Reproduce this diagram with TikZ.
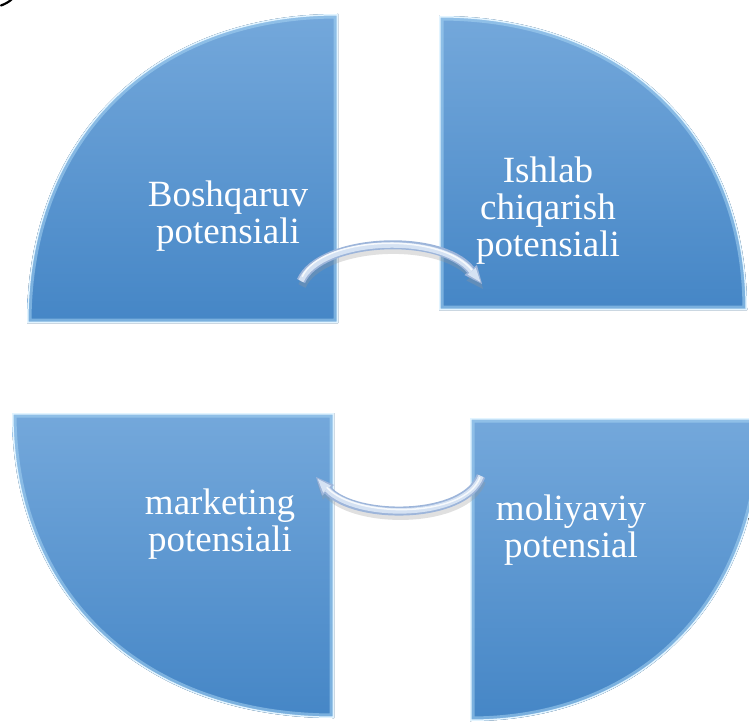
\documentclass[tikz,border=0pt]{standalone}
\usepackage{fontspec}
\setmainfont{Liberation Serif}
\usetikzlibrary{arrows.meta,shadings}
\definecolor{pieTop}{HTML}{74A8DB}
\definecolor{pieBot}{HTML}{4586C6}
\definecolor{bevelA}{HTML}{A6D3F2}
\definecolor{bevelB}{HTML}{E2F4FF}
\definecolor{arrFill}{HTML}{D5E2F3}
\definecolor{arrEdge}{HTML}{9DB5DA}
\newcommand\pieshape[1]{%
  \fill[pie] #1;
  \begin{scope}
    \clip #1;
    \draw[bevelA, line width=9pt, opacity=0.55] #1;
    \draw[bevelB, line width=3pt] #1;
  \end{scope}}
\begin{document}
\begin{tikzpicture}[x=1pt,y=-1pt,
  pie/.style={top color=pieTop,bottom color=pieBot,draw=none},
  lab/.style={text=white,font=\fontsize{37}{37}\selectfont,align=center,anchor=base,inner sep=0pt},
  ashadow/.style={draw=black!40,opacity=0.3,line width=8pt,-{Triangle[length=17pt,width=15pt,line width=0pt]}},
  aouter/.style={draw=arrEdge,line width=9pt,-{Triangle[length=18pt,width=16pt,line width=0pt]}},
  ainner/.style={draw=arrFill,line width=5.5pt,shorten >=2.5pt,-{Triangle[length=14pt,width=10.5pt,line width=0pt]}},
  ahigh/.style={draw=white,line width=1.5pt,opacity=0.8,shorten >=16pt,shorten <=3pt}]
\useasboundingbox (0,0) rectangle (749,722);
\clip (0,0) rectangle (749,722);
% fragment of a glyph cut by the top edge
\draw[line width=2.2pt,line cap=round] (1,5.5) .. controls (5,4) and (9,2) .. (12,-1);
% quarter shapes
\pieshape{(338,323) -- (27,323) .. controls (27,137.6) and (151.4,14) .. (338,14) -- cycle}
\pieshape{(439,310) -- (439,16) .. controls (623.8,16) and (747,133.6) .. (747,310) -- cycle}
\pieshape{(334,413) -- (12,413) .. controls (12,596) and (140.8,718) .. (334,718) -- cycle}
\pieshape{(470,418) -- (762,418) .. controls (762,599.8) and (645,721) .. (470,721) -- cycle}
% labels (anchor = baseline of last line)
\node[lab] (t1) at (228,243) {Boshqaruv\\potensiali};
\node[lab] (t2) at (548,256) {Ishlab\\chiqarish\\potensiali};
\node[lab] (t3) at (220,551) {marketing\\potensiali};
\node[lab] (t4) at (571,557) {moliyaviy\\potensial};
% arrows
\coordinate (a1s) at (301,281);
\coordinate (a1e) at (482,284);
\coordinate (a2s) at (481,476);
\coordinate (a2e) at (316,477);
\draw[ashadow] ([xshift=1pt,yshift=-5pt]a1s) .. controls (321,243) and (441,237) .. ([xshift=1pt,yshift=-5pt]a1e);
\draw[aouter] (a1s) .. controls (320,238) and (440,232) .. (a1e);
\draw[ainner] (a1s) .. controls (320,238) and (440,232) .. (a1e);
\draw[ahigh] ([yshift=1.5pt]a1s) .. controls (320,236.5) and (440,230.5) .. ([yshift=1.5pt]a1e);
\draw[ashadow] ([xshift=1pt,yshift=-5pt]a2s) .. controls (466,525) and (356,525) .. ([xshift=1pt,yshift=-5pt]a2e);
\draw[aouter] (a2s) .. controls (465,520) and (355,520) .. (a2e);
\draw[ainner] (a2s) .. controls (465,520) and (355,520) .. (a2e);
\draw[ahigh] ([yshift=1.5pt]a2s) .. controls (465,518.5) and (355,518.5) .. ([yshift=1.5pt]a2e);
\end{tikzpicture}
\end{document}
